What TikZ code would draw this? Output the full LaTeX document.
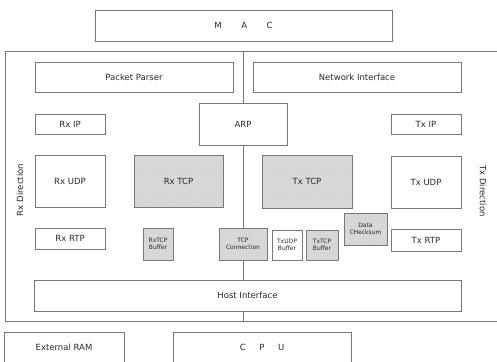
\documentclass[tikz,border=0pt]{standalone}
\usepackage{fontspec}
\setmainfont{DejaVu Sans}
\usepackage{xcolor}
\definecolor{lgray}{RGB}{120,120,120}
\definecolor{tgray}{RGB}{40,40,40}
\definecolor{hfill}{RGB}{222,222,222}
\usetikzlibrary{positioning,patterns}

\begin{document}
\begin{tikzpicture}[x=1pt,y=-1pt,
  bbox/.style={rectangle,draw=lgray,line width=0.6pt,inner sep=0pt,text=tgray,font=\fontsize{8.5}{10}\selectfont},
  sbox/.style={bbox,align=center,font=\fontsize{6}{7}\selectfont},
  hatch/.style={preaction={fill=hfill},pattern=crosshatch,pattern color=gray!35},
  link/.style={draw=lgray,line width=0.6pt}
]
  \useasboundingbox (0,0) rectangle (497,361);

  % outer blocks
  \node[bbox,minimum width=297,minimum height=31] (mac) at (243.5,25.5) {M\hspace{2.3em}A\hspace{2.3em}C};
  \node[bbox,minimum width=540,minimum height=270] (frame) at (275,186) {};
  \node[bbox,minimum width=120,minimum height=30] (ram) at (64,347) {External RAM};
  \node[bbox,minimum width=178,minimum height=30] (cpu) at (262,347) {C\hspace{1.6em}P\hspace{1.6em}U};

  % inside the frame
  \node[bbox,minimum width=198,minimum height=30] (parser) at (134,77) {Packet Parser};
  \node[bbox,minimum width=208,minimum height=30] (netif) at (357,77) {Network Interface};
  \node[bbox,minimum width=88,minimum height=42] (arp) at (243,124) {ARP};
  \node[bbox,minimum width=70,minimum height=20] (rxip) at (70,124.5) {Rx IP};
  \node[bbox,minimum width=70,minimum height=20] (txip) at (426,124.5) {Tx IP};
  \node[bbox,minimum width=70,minimum height=52] (rxudp) at (70,181) {Rx UDP};
  \node[bbox,hatch,minimum width=89,minimum height=52] (rxtcp) at (178.5,181) {Rx TCP};
  \node[bbox,hatch,minimum width=90,minimum height=53] (txtcp) at (307,181.5) {Tx TCP};
  \node[bbox,minimum width=70,minimum height=52] (txudp) at (426,182) {Tx UDP};
  \node[bbox,minimum width=70,minimum height=21] (rxrtp) at (70,238.5) {Rx RTP};
  \node[bbox,minimum width=70,minimum height=22] (txrtp) at (426,240) {Tx RTP};
  \node[sbox,hatch,minimum width=30,minimum height=32] (rxbuf) at (158,244) {RxTCP\\Buffer};
  \node[sbox,hatch,minimum width=48,minimum height=32] (tcpcon) at (243,244) {TCP\\Connection};
  \node[sbox,minimum width=30,minimum height=30] (txudpbuf) at (287,245) {TxUDP\\Buffer};
  \node[sbox,hatch,minimum width=32,minimum height=30] (txtcpbuf) at (322,245) {TxTCP\\Buffer};
  \node[sbox,hatch,minimum width=43,minimum height=32] (csum) at (365.5,229) {Data\\CHecksum};
  \node[bbox,minimum width=427,minimum height=31] (host) at (247.5,295.5) {Host Interface};

  % direction labels
  \node[text=tgray,font=\fontsize{8.5}{10}\selectfont,rotate=90] (rxdir) at (20,190) {Rx Direction};
  \node[text=tgray,font=\fontsize{8.5}{10}\selectfont,rotate=-90] (txdir) at (483,191) {Tx Direction};

  % links
  \draw[link] (arp.north |- frame.north) -- (arp.north);
  \draw[link] (arp.south) -- (tcpcon.north);
  \draw[link] (tcpcon.south) -- (tcpcon.south |- host.north);
  \draw[link] (tcpcon.south |- host.south) -- (tcpcon.south |- frame.south);
\end{tikzpicture}
\end{document}
